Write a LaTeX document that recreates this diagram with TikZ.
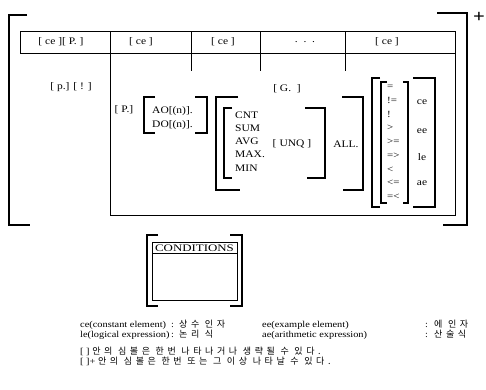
\documentclass[tikz,border=0pt]{standalone}
\usepackage{fontspec}
\setmainfont{Liberation Serif}[FakeStretch=1.15]
\newfontfamily\krf{Noto Sans CJK KR}[LetterSpace=40]
\begin{document}
\begin{tikzpicture}[x=1pt,y=-1pt,
  brk/.style={line width=1.05pt, line join=miter},
  box/.style={line width=1pt},
  txt/.style={inner sep=0pt, font=\fontsize{10}{12}\selectfont},
  op/.style={inner sep=0pt, anchor=west, font=\fontsize{9.5}{11}\selectfont},
  leg/.style={inner sep=0pt, anchor=base west, font=\fontsize{9}{11}\selectfont},
  kr/.style={inner sep=0pt, anchor=base west, font=\krf\fontsize{9}{11}\selectfont},
]
\useasboundingbox (0,0) rectangle (486,389);

% outer [ ]+ bracket
\draw[brk] (27,15) -- (9,15) -- (9,225) -- (30,225);
\draw[brk] (437,13) -- (467,13) -- (467,225) -- (443,225);
\node[inner sep=0pt, font=\bfseries\fontsize{18}{18}\selectfont] (plus) at (479,17) {+};

% header row
\draw[box] (20,31) rectangle (455,53);
\foreach \x in {110,191,260,345} \draw[box] (\x,31) -- (\x,53);
\foreach \x in {191,260,345} \draw[box] (\x,53) -- (\x,71);
\draw[box] (110,53) -- (110,215) -- (455,215) -- (455,53);
\node[txt] (h1) at (61,42) {[ ce ][ P. ]};
\node[txt] (h2) at (141,42) {[ ce ]};
\node[txt] (h3) at (223,42) {[ ce ]};
\node[txt] (h4) at (305,42) {.\ \ .\ \ .};
\node[txt] (h5) at (387,42) {[ ce ]};

% left column
\node[txt] (pex) at (71,87) {[ p.] [ ! ]};

% P. and AO/DO
\node[txt] (pp) at (124,110) {[ P.]};
\draw[brk] (155,97) -- (144,97) -- (144,133) -- (155,133);
\draw[brk] (195,97) -- (207,97) -- (207,133) -- (195,133);
\node[txt, anchor=west] (ao) at (152,111) {AO[(n)].};
\node[txt, anchor=west] (do) at (152,125) {DO[(n)].};

% G.
\node[txt] (g) at (287,89) {[ G.\ \ ]};

% aggregate brackets
\draw[brk] (238,97) -- (216,97) -- (216,190) -- (240,190);
\draw[brk] (342,97) -- (363,97) -- (363,190) -- (343,190);
\draw[brk] (232,108) -- (224,108) -- (224,178) -- (232,178);
\draw[brk] (305,108) -- (325,108) -- (325,178) -- (307,178);
\foreach \s [count=\i from 0] in {CNT,SUM,AVG,MAX.,MIN}
  \node[txt, anchor=west] (agg\i) at (235,115+13.25*\i) {\s};
\node[txt] (unq) at (292,144) {[\hspace{3pt}UNQ\hspace{3pt}]};
\node[txt] (all) at (346,144) {ALL.};

% operator brackets
\draw[brk] (380,78) -- (372,78) -- (372,207) -- (380,207);
\draw[brk] (387,82) -- (381,82) -- (381,203) -- (387,203);
\draw[brk] (403,82) -- (408,82) -- (408,203) -- (403,203);
\draw[brk] (413,78) -- (435,78) -- (435,207) -- (413,207);
\foreach \s [count=\i from 0] in {=,!=,!,>,>=,=>,<,<=,=<}
  \node[op] (op\i) at (387,87+13.75*\i) {\s};
\node[txt] (vce) at (422,102) {ce};
\node[txt] (vee) at (422,131) {ee};
\node[txt] (vle) at (422,157) {le};
\node[txt] (vae) at (422,183) {ae};

% conditions
\draw[brk] (158,235) -- (147,235) -- (147,306) -- (158,306);
\draw[brk] (230,235) -- (242,235) -- (242,306) -- (230,306);
\draw[box] (152,242) rectangle (237,300);
\draw[box] (152,253) -- (237,253);
\node[inner sep=0pt, font=\fontsize{10}{12}\selectfont] (cond) at (194.5,248) {\scalebox{1.12}[1]{CONDITIONS}};

% legend
\node[leg] (ce) at (80,327) {ce(constant element)};
\node[leg] (cec) at (171,327) {:};
\node[kr] (cek) at (179,327) {상수 인자};
\node[leg] (ee) at (262,327) {ee(example element)};
\node[leg] (eec) at (425,327) {:};
\node[kr] (eek) at (434,327) {에 인자};
\node[leg] (le) at (80,337) {le(logical expression)};
\node[leg] (lec) at (171,337) {:};
\node[kr] (lek) at (179,337) {논리 식};
\node[leg] (ae) at (262,337) {ae(arithmetic expression)};
\node[leg] (aec) at (425,337) {:};
\node[kr] (aek) at (434,337) {산술식};
\node[leg] (n1) at (80,354) {[ ]\ {\krf\fontsize{9}{11}\selectfont 안의 심볼은 한번 나타나거나 생략될 수 있다.}};
\node[leg] (n2) at (80,364) {[ ]+\ {\krf\fontsize{9}{11}\selectfont 안의 심볼은 한번 또는 그 이상 나타날 수 있다.}};
\end{tikzpicture}
\end{document}
